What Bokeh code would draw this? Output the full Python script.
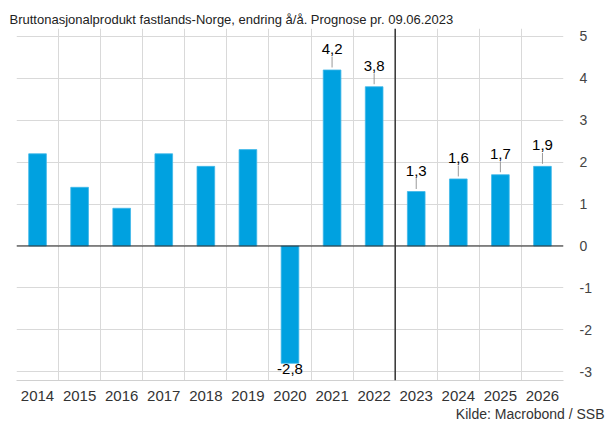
from bokeh.plotting import figure
from bokeh.models import (ColumnDataSource, FixedTicker, Span, Title, Range1d, Label)
from bokeh.core.properties import value
from bokeh.embed import file_html
from bokeh.resources import INLINE
import math

years = ["2014", "2015", "2016", "2017", "2018", "2019", "2020",
         "2021", "2022", "2023", "2024", "2025", "2026"]
gdp = [2.2, 1.4, 0.9, 2.2, 1.9, 2.3, -2.8, 4.2, 3.8, 1.3, 1.6, 1.7, 1.9]
labeled = ["2020", "2021", "2022", "2023", "2024", "2025", "2026"]
forecast_start = "2023"
y_ticks = [-3, -2, -1, 0, 1, 2, 3, 4, 5]

FONT = "Liberation Sans"
BAR = "#00A1E0"

xs = list(range(len(years)))
src = ColumnDataSource(dict(x=xs, top=gdp))

p = figure(width=606, height=421, output_backend="svg", toolbar_location=None,
           x_range=Range1d(-0.5, len(years) - 0.5), y_range=Range1d(-3.21, 5.19),
           y_axis_location="right", min_border_left=16, min_border_right=43,
           min_border_top=28, min_border_bottom=32)
p.outline_line_color = None
p.background_fill_color = "white"

p.vbar(x="x", top="top", bottom=0, width=0.42, source=src, fill_color=BAR,
       line_color="#40B8E8", line_width=0.8)

# grids
p.xgrid.ticker = FixedTicker(ticks=[i - 0.5 for i in range(len(years) + 1)])
p.xgrid.grid_line_color = "#d9d9d9"
p.ygrid.ticker = FixedTicker(ticks=y_ticks)
p.ygrid.grid_line_color = "#d9d9d9"
p.xgrid.level = "underlay"
p.ygrid.level = "underlay"

# zero line and forecast separator
p.add_layout(Span(location=0, dimension="width", line_color="#222222", line_width=1.2))
sep = years.index(forecast_start) - 0.5
p.add_layout(Span(location=sep, dimension="height", line_color="#333333", line_width=1.5))

# x axis
p.xaxis.ticker = FixedTicker(ticks=xs)
p.xaxis.major_label_overrides = {i: y for i, y in enumerate(years)}
p.xaxis.major_tick_line_color = None
p.xaxis.minor_tick_line_color = None
p.xaxis.axis_line_color = "#d0d0d0"
p.xaxis.major_label_text_font = FONT
p.xaxis.major_label_text_font_size = "15px"
p.xaxis.major_label_text_color = "#333333"
p.xaxis.major_label_standoff = 4

# y axis (right)
p.yaxis.ticker = FixedTicker(ticks=y_ticks)
p.yaxis.major_label_overrides = {t: str(t) for t in y_ticks}
p.yaxis.major_tick_line_color = None
p.yaxis.minor_tick_line_color = None
p.yaxis.axis_line_color = None
p.yaxis.major_label_text_font = FONT
p.yaxis.major_label_text_font_size = "14px"
p.yaxis.major_label_text_color = "#444444"
p.yaxis.major_label_standoff = 10

p.add_layout(Label(x=len(years) - 0.5, y=1.0, x_offset=33, text="%", angle=-math.pi / 2,
                   text_font=FONT, text_font_size="14px", text_color="#444444",
                   text_align="center", text_baseline="middle"))

# data labels
pos_x, pos_y, pos_t, seg_y0, seg_y1 = [], [], [], [], []
neg_x, neg_y, neg_t = [], [], []
for i, (yr, v) in enumerate(zip(years, gdp)):
    if yr not in labeled:
        continue
    txt = f"{v:.1f}".replace(".", ",")
    if v >= 0:
        pos_x.append(i); pos_y.append(v + 0.38); pos_t.append(txt)
        seg_y0.append(v + 0.06); seg_y1.append(v + 0.32)
    else:
        neg_x.append(i); neg_y.append(v - 0.02); neg_t.append(txt)

p.segment(x0=pos_x, x1=pos_x, y0=seg_y0, y1=seg_y1, line_color="#999999", line_width=1)
p.text(x=pos_x, y=pos_y, text=pos_t, text_align="center", text_baseline="bottom",
       text_font=value(FONT), text_font_size="15px", text_color="black")
p.text(x=neg_x, y=neg_y, text=neg_t, text_align="center", text_baseline="top",
       text_font=value(FONT), text_font_size="15px", text_color="black")

# titles
sub = Title(text="Bruttonasjonalprodukt fastlands-Norge, endring å/å. Prognose pr. 09.06.2023",
            align="left", text_font=FONT, text_font_size="13px", text_font_style="normal",
            text_color="#222222", offset=-7, standoff=4)
p.add_layout(sub, "above")

src_t = Title(text="Kilde: Macrobond / SSB", align="right", text_font=FONT,
              text_font_size="14px", text_font_style="normal", text_color="#333333",
              offset=-41, standoff=0)
p.add_layout(src_t, "below")

open("out.html", "w").write(file_html(p, INLINE))
